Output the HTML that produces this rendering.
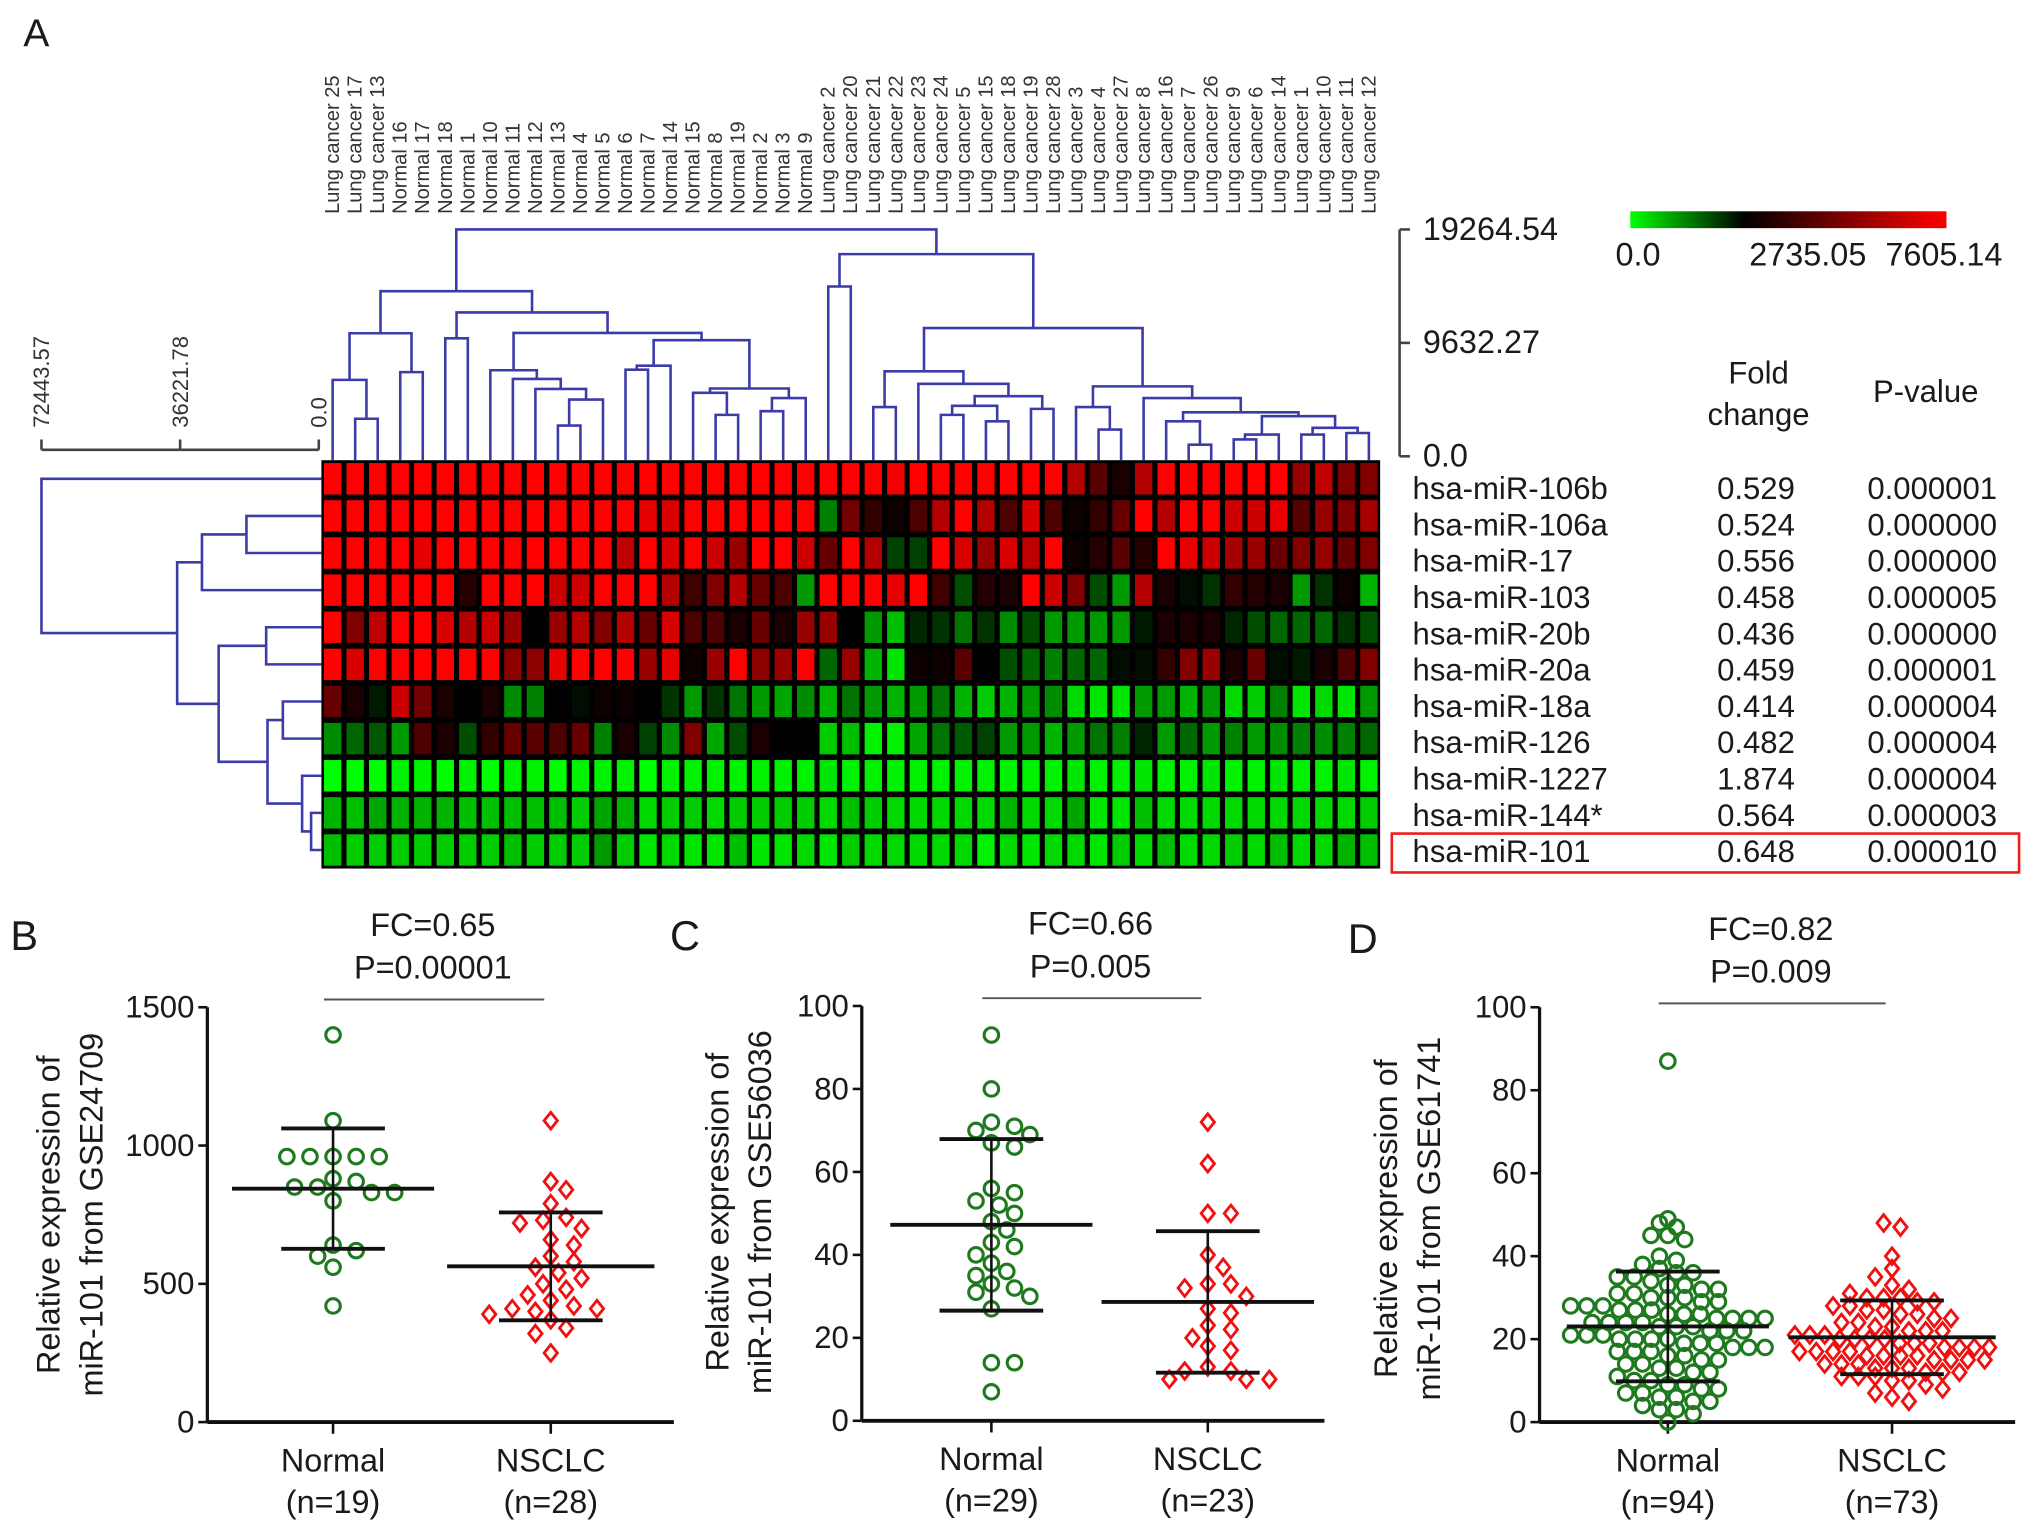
<!DOCTYPE html>
<html><head><meta charset="utf-8">
<style>
html,body{margin:0;padding:0;background:#fff;}
svg{display:block;font-family:"Liberation Sans",Arial,sans-serif;}
</style></head>
<body>
<svg id="fig" width="2032" height="1531" viewBox="0 0 1568 1181" preserveAspectRatio="none" xmlns="http://www.w3.org/2000/svg">
<rect x="0" y="0" width="1568" height="1181" fill="#fff"/>
<g id="panelA"></g>
<g id="panelB"></g>
<g id="panelC"></g>
<g id="panelD"></g>
</svg>
<script>
// ---------- Panel A data ----------
const sampleLabels = ["Lung cancer 25","Lung cancer 17","Lung cancer 13","Normal 16","Normal 17","Normal 18","Normal 1","Normal 10","Normal 11","Normal 12","Normal 13","Normal 4","Normal 5","Normal 6","Normal 7","Normal 14","Normal 15","Normal 8","Normal 19","Normal 2","Normal 3","Normal 9","Lung cancer 2","Lung cancer 20","Lung cancer 21","Lung cancer 22","Lung cancer 23","Lung cancer 24","Lung cancer 5","Lung cancer 15","Lung cancer 18","Lung cancer 19","Lung cancer 28","Lung cancer 3","Lung cancer 4","Lung cancer 27","Lung cancer 8","Lung cancer 16","Lung cancer 7","Lung cancer 26","Lung cancer 9","Lung cancer 6","Lung cancer 14","Lung cancer 1","Lung cancer 10","Lung cancer 11","Lung cancer 12"];
const mirnaNames = ["hsa-miR-106b","hsa-miR-106a","hsa-miR-17","hsa-miR-103","hsa-miR-20b","hsa-miR-20a","hsa-miR-18a","hsa-miR-126","hsa-miR-1227","hsa-miR-144*","hsa-miR-101"];
const foldChanges = ["0.529","0.524","0.556","0.458","0.436","0.459","0.414","0.482","1.874","0.564","0.648"];
const pValues = ["0.000001","0.000000","0.000000","0.000005","0.000000","0.000001","0.000004","0.000004","0.000004","0.000003","0.000010"];
const colorTicks = [0.0, 2735.05, 7605.14];
const colorTickLabels = ["0.0","2735.05","7605.14"];
const topScaleTicks = [0.0, 9632.27, 19264.54];
const topScaleLabels = ["0.0","9632.27","19264.54"];
const leftScaleTicks = [0.0, 36221.78, 72443.57];
const leftScaleLabels = ["0.0","36221.78","72443.57"];
// heat values: -1 bright green, 0 black, 1 bright red
const heatRow0 = [1,1,1,1,1,1,1,1,1,1,1,1,1,1,1,1,1,1,1,1,1,1,1,1,1,0.95,1,1,1,1,1,1,1,0.7,0.35,0.1,0.7,1,1,1,1,1,1,0.6,0.75,0.5,0.5];
const heatRow1 = [1,1,1,1,1,1,1,1,1,1,1,1,1,1,0.9,0.85,1,1,1,1,1,1,-0.5,0.45,0.2,0.05,0.3,0.7,1,0.7,0.3,0.85,0.3,0.05,0.2,0.4,1,0.7,1,1,0.8,0.8,0.9,0.35,0.6,0.5,0.65];
const heatRow2 = [1,1,1,1,0.9,1,1,1,1,1,1,1,1,0.75,1,0.85,1,0.8,0.6,1,1,0.8,0.4,1,0.7,-0.25,-0.25,1,0.85,0.6,0.85,0.75,1,0.05,0.15,0.35,0.15,1,0.9,0.8,0.65,0.6,0.4,0.5,0.6,0.4,0.5];
const heatRow3 = [1,1,1,1,1,1,0.15,1,1,1,0.8,0.8,1,1,1,0.7,0.25,0.5,0.7,0.4,0.3,-0.6,1,1,1,0.9,1,0.25,-0.3,0.15,0.1,1,0.8,0.5,-0.3,-0.6,0.7,0.1,-0.05,-0.2,0.2,0.15,0.1,-0.6,-0.2,0.05,-0.7];
const heatRow4 = [1,0.5,0.75,1,1,0.85,0.7,0.8,0.6,0,0.6,0.7,0.5,0.7,0.4,0.85,0.3,0.3,0.1,0.4,0.1,0.6,0.6,0,-0.6,-0.75,-0.15,-0.2,-0.45,-0.2,-0.55,-0.3,-0.6,-0.6,-0.6,-0.6,-0.1,0.1,0.1,0.1,-0.15,-0.3,-0.4,-0.4,-0.4,-0.2,-0.3];
const heatRow5 = [1,0.85,1,1,1,1,1,1,0.55,0.55,0.9,1,1,1,0.6,0.9,0.05,0.6,1,0.55,0.6,1,-0.4,0.6,-0.7,-0.9,0.05,0.05,0.35,0,-0.3,-0.4,-0.5,-0.4,-0.4,-0.05,-0.05,0.2,0.5,0.6,0.1,0.4,-0.05,-0.1,0.1,0.3,0.5];
const heatRow6 = [0.4,0.1,-0.1,0.8,0.45,0.1,0,0.1,-0.55,-0.5,0,-0.05,0.05,0.05,0,-0.2,-0.6,-0.2,-0.45,-0.6,-0.65,-0.55,-0.7,-0.45,-0.6,-0.7,-0.6,-0.45,-0.7,-0.8,-0.7,-0.6,-0.55,-0.85,-0.9,-0.9,-0.6,-0.6,-0.7,-0.6,-0.85,-0.8,-0.5,-0.9,-0.85,-0.9,-0.6];
const heatRow7 = [-0.55,-0.4,-0.35,-0.6,0.3,0.1,-0.3,0.2,0.4,0.35,0.3,0.4,-0.5,0.1,-0.25,-0.55,0.5,-0.65,-0.3,0.1,0,0,-0.8,-0.75,-0.95,-0.95,-0.65,-0.45,-0.35,-0.25,-0.6,-0.6,-0.7,-0.6,-0.45,-0.5,-0.15,-0.6,-0.4,-0.6,-0.5,-0.6,-0.55,-0.5,-0.55,-0.5,-0.4];
const heatRow8 = [-1,-1,-1,-0.95,-0.95,-1,-0.95,-1,-0.95,-0.95,-1,-0.95,-0.95,-0.95,-1,-0.95,-0.95,-0.95,-0.95,-0.95,-0.95,-0.95,-0.9,-0.95,-0.95,-0.95,-0.95,-0.95,-0.95,-0.95,-0.95,-0.95,-0.95,-0.9,-0.95,-0.95,-0.9,-0.95,-0.95,-0.9,-0.95,-0.95,-0.9,-0.95,-0.95,-0.9,-0.95];
const heatRow9 = [-0.7,-0.75,-0.65,-0.7,-0.7,-0.7,-0.75,-0.75,-0.75,-0.75,-0.75,-0.8,-0.65,-0.7,-0.85,-0.8,-0.8,-0.85,-0.8,-0.8,-0.8,-0.8,-0.85,-0.75,-0.8,-0.85,-0.85,-0.85,-0.85,-0.85,-0.7,-0.85,-0.85,-0.65,-0.9,-0.9,-0.75,-0.85,-0.85,-0.85,-0.85,-0.85,-0.85,-0.85,-0.85,-0.85,-0.8];
const heatRow10 = [-0.75,-0.8,-0.8,-0.8,-0.8,-0.8,-0.8,-0.8,-0.75,-0.8,-0.8,-0.8,-0.6,-0.8,-0.9,-0.85,-0.9,-0.9,-0.75,-0.9,-0.9,-0.85,-0.9,-0.8,-0.85,-0.85,-0.85,-0.85,-0.85,-0.95,-0.85,-0.9,-0.85,-0.85,-0.9,-0.8,-0.85,-0.75,-0.85,-0.85,-0.8,-0.85,-0.75,-0.85,-0.85,-0.7,-0.75];
const heatValues = [heatRow0,heatRow1,heatRow2,heatRow3,heatRow4,heatRow5,heatRow6,heatRow7,heatRow8,heatRow9,heatRow10];
// dendrograms: [left, right, height]
const colTreeLeft = [[[0,[1,2,3190],6490],[3,4,7150],10450],[[5,6,10020],[[7,[8,[9,[[10,11,2610],12,4820],5720],6570],7310],[[[13,14,7360],15,7700],[[16,[17,18,3520],5390],[[19,20,3830],21,4950],5760],9860],10480],12220],14020];
const colTreeRight = [[22,23,14420],[[[24,25,4180],[26,[[[27,28,3520],[29,30,2970],4290],[31,32,4030],5110],6160],7220],[[33,[34,35,2270],4180],[36,[[37,[38,39,990],2970],[[[40,41,1430],42,1850],[[43,44,1850],[45,46,1980],2420],3410],3740],4950],5940],10890],17170];
const colTree = [colTreeLeft, colTreeRight, 19264];
const rowTree = [0,[[[1,2,18900],3,30520],[[4,5,13750],[[6,7,9390],[8,[9,10,2010],4360],13400],26160],37000],72443];

// ---------- Panels B-D data ----------
const groupNames = ["Normal","NSCLC"];
const bNormal = [1400,1090,960,960,960,960,960,880,870,850,850,830,830,800,640,620,600,560,420];
const bNSCLC = [1090,870,840,790,740,730,720,700,660,640,600,580,560,540,520,500,480,460,440,420,410,410,400,390,370,340,320,250];
const bTicks = [0,500,1000,1500];
const cNormal = [93,80,72,71,70,69,67,66,56,55,53,52,50,48,46,43,42,40,38,36,35,33,32,31,30,27,14,14,7];
const cNSCLC = [72,62,50,50,40,37,33,33,32,30,27,26,23,22,20,18,17,13,12,12,10,10,10];
const cTicks = [0,20,40,60,80,100];
const dNormal = [87,49,48,47,45,45,44,40,39,38,37,36,36,35,35,34,33,33,32,32,31,31,30,30,30,29,29,28,28,28,27,27,27,26,26,26,25,25,25,25,24,24,24,24,23,23,23,22,22,22,21,21,21,20,20,20,20,19,19,19,18,18,18,17,17,17,16,16,15,15,14,14,13,13,12,12,11,10,10,9,9,8,8,7,7,6,6,5,5,4,3,3,2,0];
const dNSCLC = [48,47,40,37,35,33,32,31,30,30,30,29,29,28,28,27,27,26,26,25,25,24,24,23,23,22,22,22,21,21,21,20,20,20,20,19,19,19,18,18,18,18,17,17,17,17,16,16,16,16,15,15,15,15,14,14,14,13,13,13,12,12,12,11,11,11,10,10,9,8,7,6,5];
const dTicks = [0,20,40,60,80,100];

// ---------- helpers ----------
const NS = "http://www.w3.org/2000/svg";
function mk(parent, tag, attrs, text) {
  const el = document.createElementNS(NS, tag);
  for (const k in attrs) el.setAttribute(k, attrs[k]);
  if (text !== undefined) el.textContent = text;
  parent.appendChild(el);
  return el;
}
const TXT = "#1a1a1a";
const DCOL = "#3c3ca8";

// ---------- Panel A ----------
const gA = document.getElementById("panelA");
const lblA = mk(gA, "text", {x:18, y:36, "font-size":30, fill:TXT}, "A");



const hx0 = 248, hx1 = 1065, hy0 = 355, hy1 = 670;
const nCols = sampleLabels.length, nRows = mirnaNames.length;
const cw = (hx1 - hx0) / nCols, rh = (hy1 - hy0) / nRows;
function colX(i){ return hx0 + cw * (i + 0.5); }
function rowY(j){ return hy0 + rh * (j + 0.5); }
function heatColor(v){
  if (v >= 0) return "rgb(" + Math.round(v*255) + ",0,0)";
  return "rgb(0," + Math.round(-v*255) + ",0)";
}
const hbg = mk(gA, "rect", {x:hx0, y:hy0, width:hx1-hx0, height:hy1-hy0, fill:"#000"});


for (let j = 0; j < nRows; j++) {
  for (let i = 0; i < nCols; i++) {
    const c = mk(gA, "rect", {x:hx0 + cw*i + 2, y:hy0 + rh*j + 2.2, width:cw-4, height:rh-4.4, fill:heatColor(heatValues[j][i])});
    
    
  }
}
for (let i = 0; i < nCols; i++) {
  const x = colX(i) + 5, y = 165;
  const t = mk(gA, "text", {x:x, y:y, "font-size":15.5, fill:"#333", transform:"rotate(-90 "+x+" "+y+")"}, sampleLabels[i]);
  
  
}
const topMax = 19264.54;
function topY(h){ return 352 - h / topMax * 175; }
function drawCol(node, g) {
  if (typeof node === "number") return {x: colX(node), y: hy0};
  const a = drawCol(node[0], g), b = drawCol(node[1], g);
  const y = topY(node[2]);
  const p = mk(g, "path", {d:"M"+a.x+","+a.y+"V"+y+"H"+b.x+"V"+b.y, fill:"none", stroke:DCOL, "stroke-width":2});
  
  
  return {x:(a.x+b.x)/2, y:y};
}
const gTop = mk(gA, "g", {});


drawCol(colTree, gTop);
const leftMax = 72443.57;
function leftX(h){ return 246 - h / leftMax * 214; }
function drawRow(node, g) {
  if (typeof node === "number") return {x: hx0, y: rowY(node)};
  const a = drawRow(node[0], g), b = drawRow(node[1], g);
  const x = leftX(node[2]);
  const p = mk(g, "path", {d:"M"+a.x+","+a.y+"H"+x+"V"+b.y+"H"+b.x, fill:"none", stroke:DCOL, "stroke-width":2});
  
  
  return {x:x, y:(a.y+b.y)/2};
}
const gLeft = mk(gA, "g", {});


drawRow(rowTree, gLeft);
const ls = mk(gA, "line", {x1:leftX(leftMax), x2:leftX(0), y1:347, y2:347, stroke:"#444", "stroke-width":2});


leftScaleTicks.forEach((v, k) => {
  const x = leftX(v);
  const tk = mk(gA, "line", {x1:x, x2:x, y1:347, y2:339, stroke:"#444", "stroke-width":2});
  
  
  const tx = x + 6, ty = 330;
  const t = mk(gA, "text", {x:tx, y:ty, "font-size":17, fill:"#333", transform:"rotate(-90 "+tx+" "+ty+")"}, leftScaleLabels[k]);
  
  
});
const ts = mk(gA, "line", {x1:1080, x2:1080, y1:topY(topMax), y2:topY(0), stroke:"#444", "stroke-width":2});


topScaleTicks.forEach((v, k) => {
  const y = topY(v);
  const tk = mk(gA, "line", {x1:1080, x2:1088, y1:y, y2:y, stroke:"#444", "stroke-width":2});
  
  
  const t = mk(gA, "text", {x:1098, y:y+8, "font-size":25, fill:TXT}, topScaleLabels[k]);
  
  
});
const defs = mk(gA, "defs", {});
const grad = mk(defs, "linearGradient", {id:"cbar", x1:"0", x2:"1", y1:"0", y2:"0"});
const blackStop = colorTicks[1] / colorTicks[2];
mk(grad, "stop", {offset:"0", "stop-color":"#00ff00"});
mk(grad, "stop", {offset:String(blackStop), "stop-color":"#000"});
mk(grad, "stop", {offset:"1", "stop-color":"#ff0000"});
const cbx0 = 1258, cbx1 = 1502;
const cb = mk(gA, "rect", {x:cbx0, y:163, width:cbx1-cbx0, height:13, fill:"url(#cbar)"});


const cbLabelX = [1264, 1395, 1500];
colorTicks.forEach((v, k) => {
  const t = mk(gA, "text", {x:cbLabelX[k], y:205, "font-size":25, fill:TXT, "text-anchor":"middle"}, colorTickLabels[k]);
  
  
});
const th1 = mk(gA, "text", {x:1357, y:296, "font-size":24, fill:TXT, "text-anchor":"middle"}, "Fold");


const th2 = mk(gA, "text", {x:1357, y:328, "font-size":24, fill:TXT, "text-anchor":"middle"}, "change");


const th3 = mk(gA, "text", {x:1486, y:310, "font-size":24, fill:TXT, "text-anchor":"middle"}, "P-value");


for (let j = 0; j < nRows; j++) {
  const y = 385 + 28 * j;
  const a = mk(gA, "text", {x:1090, y:y, "font-size":24, fill:TXT}, mirnaNames[j]);
  
  
  const b = mk(gA, "text", {x:1355, y:y, "font-size":24, fill:TXT, "text-anchor":"middle"}, foldChanges[j]);
  
  
  const c = mk(gA, "text", {x:1491, y:y, "font-size":24, fill:TXT, "text-anchor":"middle"}, pValues[j]);
  
  
}
const hl = mk(gA, "rect", {x:1074, y:643, width:484, height:30, fill:"none", stroke:"#ee1c1c", "stroke-width":2});



// ---------- scatter panels ----------
function stats(arr){
  const m = arr.reduce((s,v)=>s+v,0)/arr.length;
  const sd = Math.sqrt(arr.reduce((s,v)=>s+(v-m)*(v-m),0)/(arr.length-1));
  return {m, sd};
}
function swarm(values, cx, yS, r) {
  const sorted = values.slice().sort((a,b)=>b-a);
  const placed = [];
  const step = r * 0.9;
  sorted.forEach(v => {
    const y = yS(v);
    for (let k = 0; k < 200; k++) {
      const off = (k === 0) ? 0 : (k % 2 ? 1 : -1) * Math.ceil(k/2) * step;
      const x = cx + off;
      let ok = true;
      for (const p of placed) {
        const dx = p.x - x, dy = p.y - y;
        if (dx*dx + dy*dy < (2*r)*(2*r)*0.92) { ok = false; break; }
      }
      if (ok) { placed.push({x, y, v}); break; }
    }
  });
  return placed;
}
// binned layout with bounded width (dense groups)
function binned(values, cx, yS, binPx, half) {
  const bins = {};
  values.forEach(v => {
    const b = Math.round(yS(v) / binPx);
    (bins[b] = bins[b] || []).push(v);
  });
  const out = [];
  Object.keys(bins).forEach(b => {
    const arr = bins[b];
    const n = arr.length;
    const sp = n > 1 ? Math.min(13, (2*half)/(n-1)) : 0;
    arr.forEach((v, i) => {
      const x = cx + (i - (n-1)/2) * sp;
      out.push({x, y: yS(v), v});
    });
  });
  return out;
}
function drawPanel(cfg) {
  const g = document.getElementById(cfg.id);
  const yS = v => cfg.y0 - v / cfg.max * (cfg.y0 - cfg.y1);
  const L = mk(g, "text", {x:cfg.letterX, y:cfg.letterY, "font-size":32, fill:TXT}, cfg.letter);
  
  
  const ya = mk(g, "line", {x1:cfg.ax, x2:cfg.ax, y1:cfg.y1, y2:cfg.y0, stroke:"#111", "stroke-width":2.5});
  
  
  cfg.ticks.forEach(v => {
    const y = yS(v);
    const tk = mk(g, "line", {x1:cfg.ax-7, x2:cfg.ax, y1:y, y2:y, stroke:"#111", "stroke-width":2});
    
    
    const t = mk(g, "text", {x:cfg.ax-10, y:y+8, "font-size":24, fill:TXT, "text-anchor":"end"}, String(v));
    
    
  });
  const xa = mk(g, "line", {x1:cfg.ax, x2:cfg.axEnd, y1:cfg.y0, y2:cfg.y0, stroke:"#111", "stroke-width":3});
  
  
  const tx1 = cfg.titleX, tx2 = cfg.titleX + 33, ty = cfg.titleY;
  const t1 = mk(g, "text", {x:tx1, y:ty, "font-size":25, fill:TXT, "text-anchor":"middle", transform:"rotate(-90 "+tx1+" "+ty+")"}, "Relative expression of");
  
  
  const t2 = mk(g, "text", {x:tx2, y:ty, "font-size":25, fill:TXT, "text-anchor":"middle", transform:"rotate(-90 "+tx2+" "+ty+")"}, "miR-101 from " + cfg.gse);
  
  
  const groups = [cfg.normal, cfg.nsclc];
  const counts = [cfg.normal.length, cfg.nsclc.length];
  groups.forEach((vals, gi) => {
    const cx = cfg.cx[gi];
    const tk = mk(g, "line", {x1:cx, x2:cx, y1:cfg.y0, y2:cfg.y0+9, stroke:"#111", "stroke-width":2});
    
    
    const n1 = mk(g, "text", {x:cx, y:cfg.y0+38, "font-size":25, fill:TXT, "text-anchor":"middle"}, groupNames[gi]);
    
    
    const n2 = mk(g, "text", {x:cx, y:cfg.y0+70, "font-size":25, fill:TXT, "text-anchor":"middle"}, "(n=" + counts[gi] + ")");
    
    
    const pts = cfg.dense ? binned(vals, cx, yS, 11, 75) : swarm(vals, cx, yS, 6.6);
    pts.forEach(p => {
      let m;
      if (gi === 0) {
        m = mk(g, "circle", {cx:p.x, cy:p.y, r:5.6, fill:"none", stroke:"#1f7a1f", "stroke-width":2.4});
        
      } else {
        const s = 6.4;
        m = mk(g, "path", {d:"M"+p.x+","+(p.y-s)+"L"+(p.x+s*0.8)+","+p.y+"L"+p.x+","+(p.y+s)+"L"+(p.x-s*0.8)+","+p.y+"Z", fill:"none", stroke:"#f01010", "stroke-width":2.2});
        
      }
      
    });
    const st = stats(vals);
    const ym = yS(st.m), yu = yS(st.m + st.sd), yl = yS(Math.max(0, st.m - st.sd));
    const vl = mk(g, "line", {x1:cx, x2:cx, y1:yu, y2:yl, stroke:"#111", "stroke-width":2});
    
    
    const mw = cfg.meanW[gi];
    const ml = mk(g, "line", {x1:cx-mw, x2:cx+mw, y1:ym, y2:ym, stroke:"#111", "stroke-width":3});
    
    
    [yu, yl].forEach(yy => {
      const c = mk(g, "line", {x1:cx-40, x2:cx+40, y1:yy, y2:yy, stroke:"#111", "stroke-width":3});
      
      
    });
  });
  const mid = (cfg.cx[0] + cfg.cx[1]) / 2;
  const fc = mk(g, "text", {x:mid - 7, y:cfg.sigY-38, "font-size":25, fill:TXT, "text-anchor":"middle"}, cfg.fc);
  
  
  const pv = mk(g, "text", {x:mid - 7, y:cfg.sigY-5, "font-size":25, fill:TXT, "text-anchor":"middle"}, cfg.p);
  
  
  const sb = mk(g, "line", {x1:cfg.cx[0]-7, x2:cfg.cx[1]-5, y1:cfg.sigY+11, y2:cfg.sigY+11, stroke:"#555", "stroke-width":1.5});
  
  
}
drawPanel({id:"panelB", letter:"B", letterX:8, letterY:733, ax:160, axEnd:520, y0:1097, y1:777, max:1500, ticks:bTicks, cx:[257,425], meanW:[78,80], normal:bNormal, nsclc:bNSCLC, gse:"GSE24709", titleX:46, titleY:937, fc:"FC=0.65", p:"P=0.00001", sigY:760});
drawPanel({id:"panelC", letter:"C", letterX:517, letterY:733, ax:665, axEnd:1022, y0:1096, y1:776, max:100, ticks:cTicks, cx:[765,932], meanW:[78,82], normal:cNormal, nsclc:cNSCLC, gse:"GSE56036", titleX:562, titleY:935, fc:"FC=0.66", p:"P=0.005", sigY:759});
drawPanel({id:"panelD", letter:"D", letterX:1040, letterY:735, ax:1188, axEnd:1555, y0:1097, y1:777, max:100, ticks:dTicks, cx:[1287,1460], meanW:[78,80], normal:dNormal, nsclc:dNSCLC, gse:"GSE61741", titleX:1078, titleY:940, fc:"FC=0.82", p:"P=0.009", sigY:763, dense:true});
</script>
</body></html>
